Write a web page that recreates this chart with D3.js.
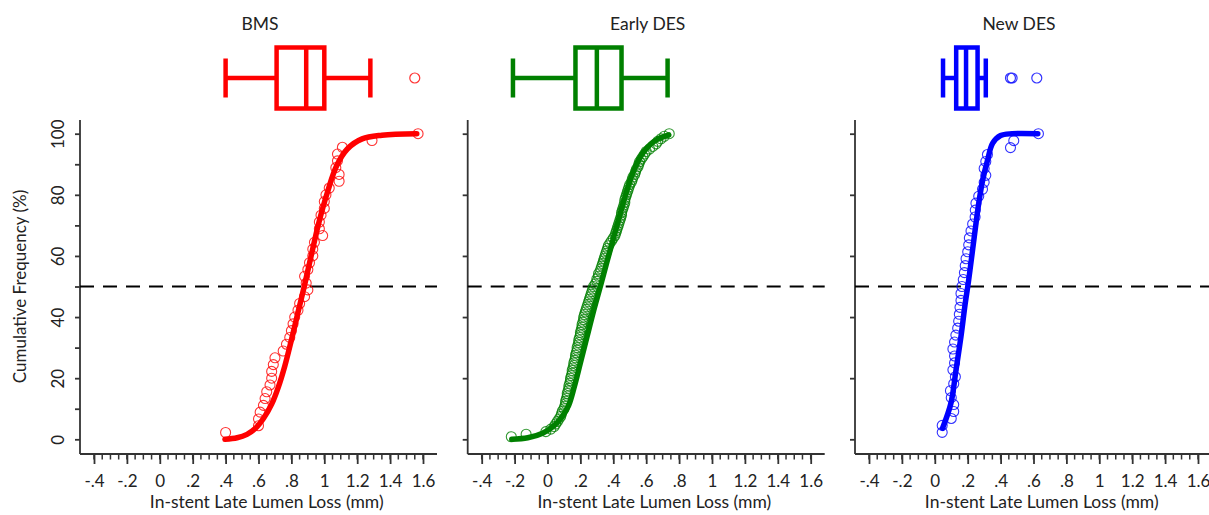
<!DOCTYPE html>
<html>
<head>
<meta charset="utf-8">
<script src="https://cdn.jsdelivr.net/npm/d3@7"></script>
<style>
  body { margin: 0; background: #fff; }
  svg { display: block; }
  text { font-family: Lato, "Open Sans", sans-serif; fill: #222; }
</style>
</head>
<body>
<svg id="chart" width="1209" height="515"></svg>
<script>
// --- data ---
const groups = ["BMS", "Early DES", "New DES"];
const colors = ["#ff0000", "#008000", "#0000ff"];

// observed late loss values, in order of cumulative rank
const bmsLoss = [0.40, 0.60, 0.60, 0.61, 0.63, 0.64, 0.65, 0.67, 0.68, 0.68, 0.69, 0.70, 0.75, 0.77, 0.79,
  0.80, 0.81, 0.82, 0.84, 0.85, 0.88, 0.90, 0.89, 0.88, 0.90, 0.91, 0.93, 0.93, 0.94, 0.99,
  0.97, 0.97, 0.98, 1.00, 1.00, 1.01, 1.03, 1.09, 1.09, 1.07, 1.08, 1.08, 1.11, 1.29, 1.57];
const earlyLoss = [-0.22, -0.13, -0.01, 0.02, 0.04, 0.05, 0.06, 0.07, 0.08, 0.085, 0.09, 0.10, 0.105, 0.11, 0.11,
  0.115, 0.12, 0.12, 0.125, 0.13, 0.13, 0.135, 0.14, 0.14, 0.145, 0.15, 0.15, 0.155, 0.16, 0.16,
  0.165, 0.17, 0.17, 0.175, 0.18, 0.18, 0.185, 0.19, 0.19, 0.195, 0.20, 0.20, 0.205, 0.21, 0.21,
  0.215, 0.22, 0.22, 0.225, 0.23, 0.235, 0.24, 0.245, 0.25, 0.255, 0.26, 0.265, 0.27, 0.275, 0.28,
  0.29, 0.30, 0.30, 0.31, 0.31, 0.32, 0.325, 0.33, 0.335, 0.34, 0.345, 0.35, 0.355, 0.36, 0.365,
  0.37, 0.38, 0.39, 0.40, 0.41, 0.415, 0.42, 0.425, 0.43, 0.435, 0.44, 0.445, 0.45, 0.45, 0.455,
  0.46, 0.465, 0.47, 0.47, 0.475, 0.48, 0.485, 0.49, 0.495, 0.50, 0.51, 0.515, 0.52, 0.53, 0.535,
  0.54, 0.55, 0.555, 0.56, 0.57, 0.58, 0.59, 0.60, 0.62, 0.64, 0.66, 0.67, 0.69, 0.71, 0.74];
const newLoss = [0.045, 0.045, 0.10, 0.115, 0.115, 0.10, 0.095, 0.115, 0.125, 0.11, 0.12, 0.12, 0.11, 0.12, 0.128,
  0.139, 0.145, 0.149, 0.153, 0.159, 0.159, 0.165, 0.173, 0.18, 0.185, 0.19, 0.20, 0.206, 0.21, 0.22,
  0.23, 0.245, 0.246, 0.25, 0.267, 0.29, 0.30, 0.31, 0.30, 0.31, 0.32, 0.46, 0.48, 0.63];

// fitted cumulative curves [loss, percent]
const bmsFit = [[0.396, 0], [0.47, 0.5], [0.53, 1.6], [0.58, 3.5], [0.63, 6.8], [0.68, 11.5], [0.72, 17.0],
  [0.76, 24.0], [0.80, 32.5], [0.84, 41.5], [0.878, 50.0], [0.92, 60.0], [0.965, 70.5], [1.02, 81.0],
  [1.075, 89.5], [1.14, 95.0], [1.23, 98.3], [1.35, 99.5], [1.562, 100]];
const earlyFit = [[-0.217, 0], [-0.12, 0.5], [-0.03, 2.0], [0.04, 4.5], [0.09, 7.5], [0.128, 11.0],
  [0.162, 17.0], [0.20, 25.0], [0.24, 33.5], [0.28, 42.0], [0.321, 50.0], [0.361, 58.0], [0.402, 66.0],
  [0.443, 74.0], [0.483, 81.5], [0.524, 87.8], [0.575, 93.3], [0.645, 97.4], [0.737, 99.6]];
const newFit = [[0.047, 3.6], [0.098, 11.8], [0.129, 22.7], [0.159, 33.6], [0.185, 44.5], [0.200, 49.9],
  [0.214, 55.4], [0.240, 66.3], [0.267, 77.2], [0.291, 84.8], [0.321, 91.4], [0.352, 96.9], [0.40, 99.4],
  [0.47, 100], [0.626, 100]];

// box plots: [whisker low, q1, median, q3, whisker high]
const bmsBox = [0.40, 0.71, 0.89, 1.00, 1.28];
const earlyBox = [-0.21, 0.17, 0.30, 0.45, 0.73];
const newBox = [0.05, 0.13, 0.19, 0.26, 0.31];
const bmsOutliers = [1.55];
const earlyOutliers = [];
const newOutliers = [0.46, 0.47, 0.62];

const xTicks = [-0.4, -0.2, 0, 0.2, 0.4, 0.6, 0.8, 1, 1.2, 1.4, 1.6];
const xTickLabels = ["-.4", "-.2", "0", ".2", ".4", ".6", ".8", "1", "1.2", "1.4", "1.6"];
const yTicks = [0, 20, 40, 60, 80, 100];
const refLevel = 50;

const losses = [bmsLoss, earlyLoss, newLoss];
const fits = [bmsFit, earlyFit, newFit];
const boxes = [bmsBox, earlyBox, newBox];
const outliers = [bmsOutliers, earlyOutliers, newOutliers];

// --- layout ---
const svg = d3.select("#chart");
const panelLeft = [80, 467.7, 855];
const titleX = [180, 180, 164];
const panelW = 357, pad = 14;
const axisBottomY = 454, axisTopY = 120;
const boxMid = 78, boxHalf = 30.5, capHalf = 19.5;

const y = d3.scaleLinear().domain([0, 100]).range([439.3, 133.7]);
const axisColor = "#333";

groups.forEach((name, i) => {
  const g = svg.append("g").attr("transform", `translate(${panelLeft[i]},0)`);
  const x = d3.scaleLinear().domain([-0.4, 1.6]).range([pad, panelW - pad]);
  const col = colors[i];

  // title
  g.append("text")
    .attr("x", titleX[i]).attr("y", 30)
    .attr("text-anchor", "middle")
    .attr("font-size", "17.5px")
    .text(name);

  // x axis: line, major + minor ticks
  const xg = g.append("g").attr("transform", `translate(0,${axisBottomY})`);
  xg.append("line").attr("x1", 0).attr("x2", panelW)
    .attr("stroke", axisColor).attr("stroke-width", 1.8);
  xg.selectAll(".minor").data(d3.range(-0.4, 1.6001, 0.05)).enter().append("line")
    .attr("x1", d => x(d)).attr("x2", d => x(d))
    .attr("y1", 0).attr("y2", 5.5)
    .attr("stroke", axisColor).attr("stroke-width", 1.5);
  const xAxis = d3.axisBottom(x).tickValues(xTicks)
    .tickFormat((d, j) => xTickLabels[j]).tickSize(10).tickSizeOuter(0);
  xg.call(xAxis);
  xg.select(".domain").remove();
  xg.selectAll(".tick line").attr("stroke", axisColor).attr("stroke-width", 1.8);
  xg.selectAll(".tick text").attr("font-size", "17px").attr("fill", "#222")
    .attr("font-family", "Lato, 'Open Sans', sans-serif")
    .attr("y", 33).attr("dy", 0);

  g.append("text")
    .attr("x", x(0.65)).attr("y", 508)
    .attr("text-anchor", "middle")
    .attr("font-size", "17.5px")
    .text("In-stent Late Lumen Loss (mm)");

  // y axis
  const yg = g.append("g");
  yg.append("line").attr("x1", 0).attr("x2", 0)
    .attr("y1", axisTopY).attr("y2", axisBottomY)
    .attr("stroke", axisColor).attr("stroke-width", 1.8);
  const yAxis = d3.axisLeft(y)
    .tickValues(i === 0 ? d3.range(0, 101, 10) : yTicks)
    .tickSize(5).tickSizeOuter(0)
    .tickFormat(d => (i === 0 && d % 20 === 0) ? d : "");
  yg.call(yAxis);
  yg.select(".domain").remove();
  yg.selectAll(".tick line").attr("stroke", axisColor).attr("stroke-width", 1.8);
  yg.selectAll(".tick text")
    .attr("transform", "rotate(-90)")
    .attr("x", 0).attr("y", -16).attr("dy", 0)
    .attr("text-anchor", "middle")
    .attr("font-size", "17px").attr("fill", "#222")
    .attr("font-family", "Lato, 'Open Sans', sans-serif");

  // reference line at 50%
  g.append("line")
    .attr("x1", 0).attr("x2", panelW)
    .attr("y1", y(refLevel)).attr("y2", y(refLevel))
    .attr("stroke", "#000").attr("stroke-width", 2)
    .attr("stroke-dasharray", "14,9");

  // observed points (cumulative frequency by rank)
  const n = losses[i].length;
  g.selectAll(".pt").data(losses[i]).enter().append("circle")
    .attr("cx", d => x(d))
    .attr("cy", (d, j) => y((j + 1) / n * 100))
    .attr("r", 5)
    .attr("fill", "none")
    .attr("stroke", col)
    .attr("stroke-opacity", 0.8)
    .attr("stroke-width", 1.1);

  // fitted curve
  const line = d3.line().x(d => x(d[0])).y(d => y(d[1])).curve(d3.curveCatmullRom.alpha(0.5));
  g.append("path").datum(fits[i])
    .attr("d", line)
    .attr("fill", "none")
    .attr("stroke", col)
    .attr("stroke-width", 5.5)
    .attr("stroke-linecap", "round")
    .attr("stroke-linejoin", "round");

  // box plot above panel
  const b = boxes[i];
  const bg = g.append("g").attr("stroke", col).attr("stroke-width", 4.5).attr("fill", "none");
  bg.append("line").attr("x1", x(b[0])).attr("x2", x(b[1])).attr("y1", boxMid).attr("y2", boxMid);
  bg.append("line").attr("x1", x(b[3])).attr("x2", x(b[4])).attr("y1", boxMid).attr("y2", boxMid);
  [b[0], b[4]].forEach(v => {
    bg.append("line").attr("x1", x(v)).attr("x2", x(v))
      .attr("y1", boxMid - capHalf).attr("y2", boxMid + capHalf);
  });
  bg.append("rect")
    .attr("x", x(b[1])).attr("y", boxMid - boxHalf)
    .attr("width", x(b[3]) - x(b[1])).attr("height", boxHalf * 2);
  bg.append("line").attr("x1", x(b[2])).attr("x2", x(b[2]))
    .attr("y1", boxMid - boxHalf).attr("y2", boxMid + boxHalf);
  g.selectAll(".out").data(outliers[i]).enter().append("circle")
    .attr("cx", d => x(d)).attr("cy", boxMid)
    .attr("r", 5)
    .attr("fill", "none")
    .attr("stroke", col)
    .attr("stroke-opacity", 0.8)
    .attr("stroke-width", 1.2);
});

// shared y title
svg.append("text")
  .attr("transform", `translate(26,${y(50)}) rotate(-90)`)
  .attr("text-anchor", "middle")
  .attr("font-size", "17px")
  .text("Cumulative Frequency (%)");
</script>
</body>
</html>
